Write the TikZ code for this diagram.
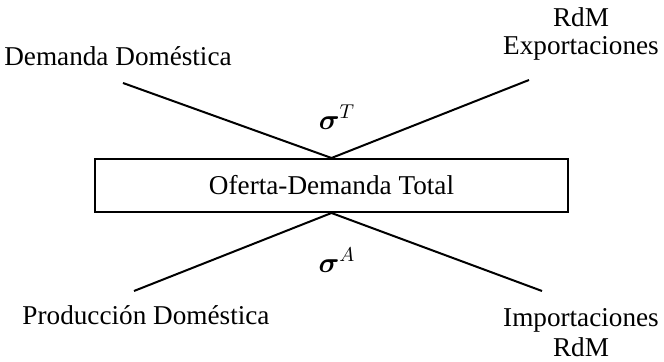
\documentclass[tikz,border=0pt]{standalone}
\usepackage{amsmath}
\usepackage{fontspec}
\setmainfont{Liberation Serif}
\usetikzlibrary{positioning}

\begin{document}
\begin{tikzpicture}[x=0.5pt,y=-0.5pt,line width=1pt,
    lbl/.style={font=\fontsize{13.6}{14}\selectfont, inner sep=0pt, align=center},
    totbox/.style={draw, minimum width=236.5pt, minimum height=26.5pt,
      inner sep=0pt, font=\fontsize{13.6}{14}\selectfont}]

      % Definitions
      \pgfmathsetmacro{\W}{664}
      \pgfmathsetmacro{\H}{362}
      \useasboundingbox (0,0) rectangle (\W,\H);

      % central box
      \node[totbox] (tot) at (331.5,185.5) {Oferta-Demanda Total};

      % upper labels
      \node[lbl, anchor=base] (dd) at (118,66) {Demanda Doméstica};
      \node[lbl, anchor=south] (ex) at (581,61) {RdM\\Exportaciones};
      \node[lbl] (sT) at (337,117) {$\boldsymbol{\sigma}^{T}$};

      % lower labels
      \node[lbl, anchor=base] (pd) at (146,325) {Producción Doméstica};
      \node[lbl, anchor=north] (im) at (581,307) {Importaciones\\[1pt]RdM};
      \node[lbl] (sA) at (337,260) {$\boldsymbol{\sigma}^{A}$};

      % free ends of the lines
      \coordinate (ul) at (123,83);
      \coordinate (ur) at (529,80);
      \coordinate (ll) at (134,291);
      \coordinate (lr) at (542,291);

      \draw (ul) -- (tot.north) -- (ur);
      \draw (ll) -- (tot.south) -- (lr);
\end{tikzpicture}
\end{document}
